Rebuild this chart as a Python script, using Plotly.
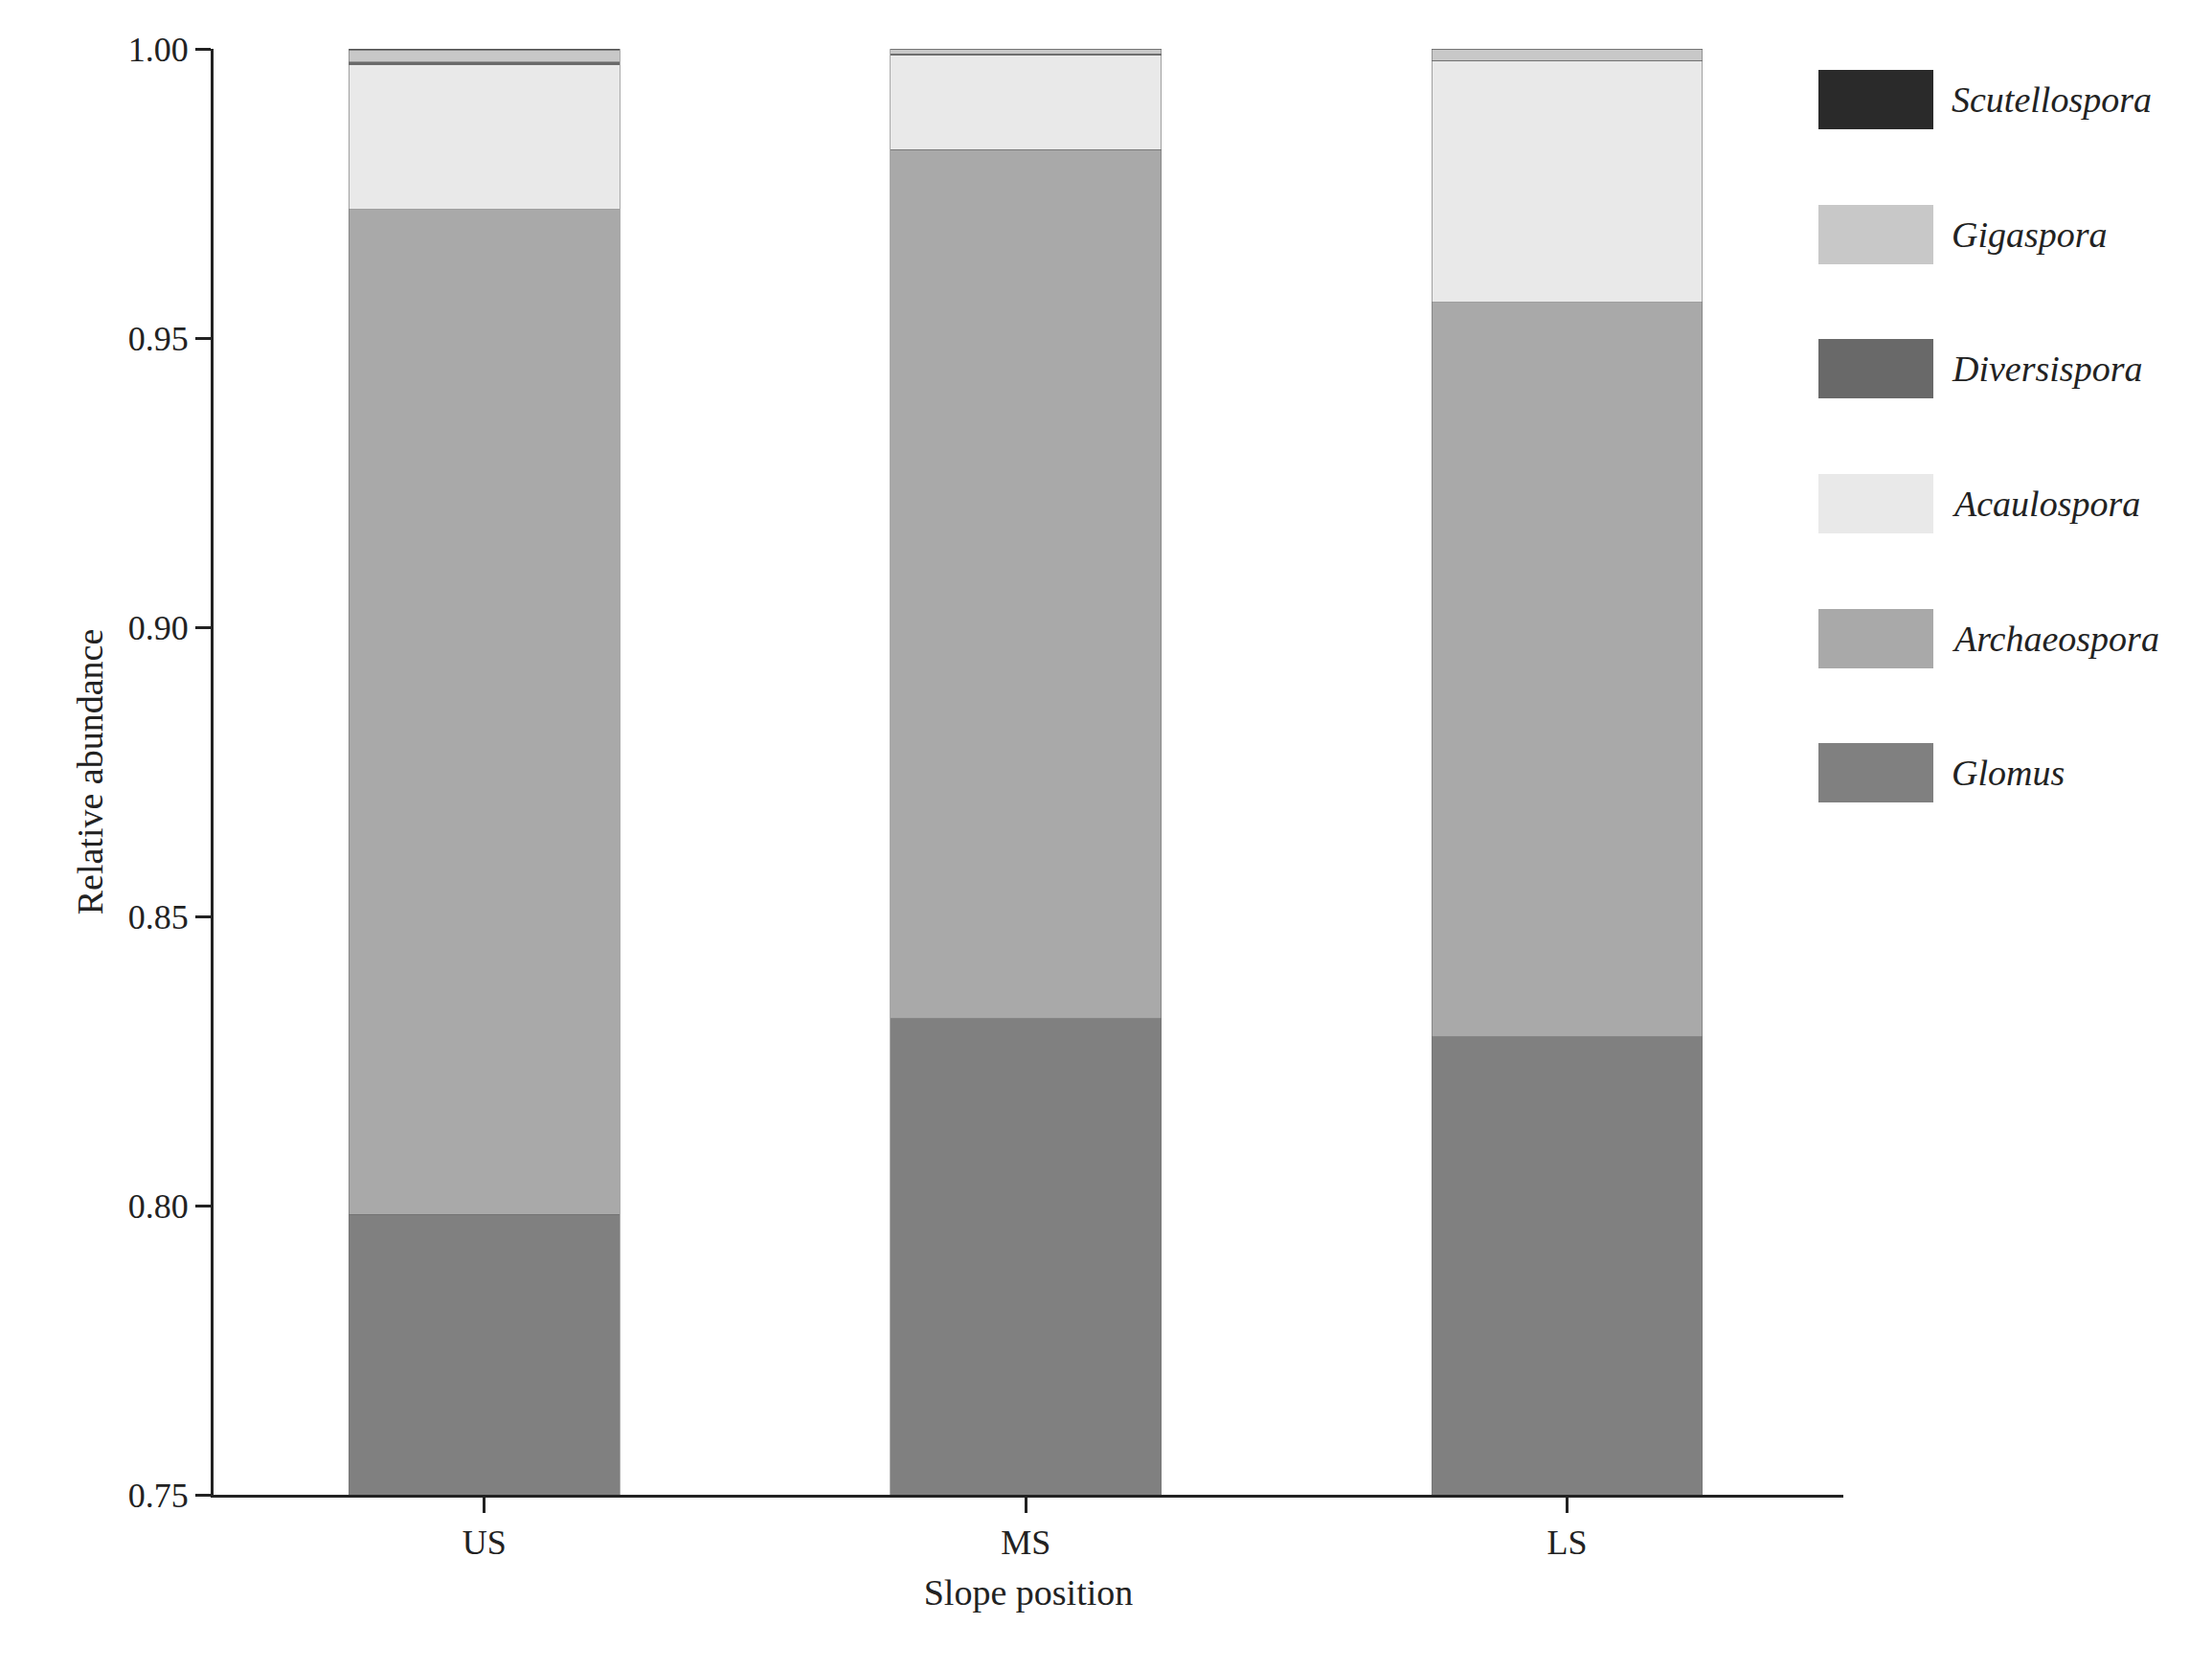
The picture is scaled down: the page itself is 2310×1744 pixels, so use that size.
import plotly.graph_objects as go

categories = ["US", "MS", "LS"]
genera = ["Glomus", "Archaeospora", "Acaulospora", "Diversispora", "Gigaspora", "Scutellospora"]
glomus = [0.7985, 0.8323, 0.8292]
archaeospora = [0.1737, 0.1503, 0.1270]
acaulospora = [0.0250, 0.0163, 0.0418]
diversispora = [0.0005, 0.0002, 0.0000]
gigaspora = [0.0021, 0.0009, 0.0020]
scutellospora = [0.0002, 0.0000, 0.0000]
values = [glomus, archaeospora, acaulospora, diversispora, gigaspora, scutellospora]
colors = ["#808080", "#a9a9a9", "#e9e9e9", "#696969", "#c8c8c8", "#2a2a2a"]

font = "Liberation Serif"
fig = go.Figure()
for name, vals, c in zip(genera, values, colors):
    fig.add_trace(go.Bar(x=categories, y=vals, name=name, marker=dict(color=c, line=dict(width=0.6, color="#707070")),
                         width=0.5, showlegend=False))

# manual legend (top to bottom: reverse order)
rows = [96, 237, 377, 518, 659, 799]
H = 1744
for i, (name, c) in enumerate(zip(genera[::-1], colors[::-1])):
    yc = 1 - (rows[i] - 43) / (1553 - 43)
    h = 31 / 1510
    fig.add_shape(type="rect", xref="paper", yref="paper", x0=(1891-215)/1702, x1=(2011-215)/1702,
                  y0=yc-h, y1=yc+h, fillcolor=c, line=dict(width=0))
    fig.add_annotation(xref="paper", yref="paper", x=(2028-215)/1702, y=yc, text=f"<i>{name}</i>",
                       showarrow=False, xanchor="left", yanchor="middle", font=dict(size=38, color="#222", family=font))

fig.update_layout(
    barmode="stack", width=2310, height=1744, plot_bgcolor="white", paper_bgcolor="white",
    margin=dict(l=215, r=393, t=43, b=191), font=dict(family=font, size=36, color="#222"),
    xaxis=dict(range=[-0.5, 2.51], showline=True, linecolor="#222", linewidth=3, ticks="outside",
               ticklen=16, tickwidth=3, tickcolor="#222",
               title=dict(text="Slope position", font=dict(size=38), standoff=20)),
    yaxis=dict(range=[0.75, 1.0], tickvals=[0.75, 0.80, 0.85, 0.90, 0.95, 1.00], tickformat=".2f",
               showline=True, linecolor="#222", linewidth=3, ticks="outside", ticklen=16, tickwidth=3,
               tickcolor="#222", showgrid=False, zeroline=False,
               title=dict(text="Relative abundance", font=dict(size=38), standoff=15)),
)
fig.write_html("out.html")
